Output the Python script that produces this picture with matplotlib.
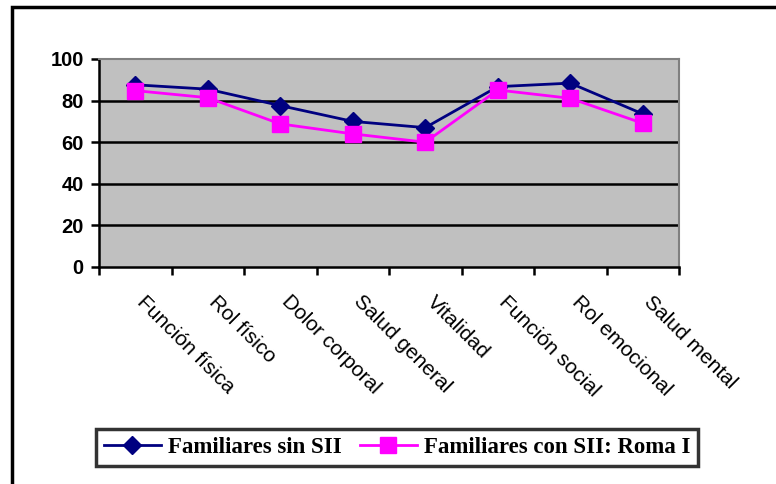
import matplotlib
matplotlib.use('Agg')
import matplotlib.pyplot as plt
from matplotlib.patches import Rectangle

categorias = ['Función física', 'Rol físico', 'Dolor corporal', 'Salud general',
              'Vitalidad', 'Función social', 'Rol emocional', 'Salud mental']
sin_sii = [87.6, 85.5, 77.6, 70.0, 67.0, 86.7, 88.4, 73.6]
con_sii = [84.8, 81.4, 68.8, 64.0, 60.0, 85.1, 81.1, 69.1]
yticks = [0, 20, 40, 60, 80, 100]

W, H = 776, 484
fig = plt.figure(figsize=(W / 100, H / 100), dpi=100)
# outer frame (only left and top edges are visible in the picture)
fig.patches.append(Rectangle((12 / W, -0.1), 1.2, 1.1 - 7 / H, transform=fig.transFigure,
                             fill=False, edgecolor='black', lw=2.5))
ax = fig.add_axes([99 / W, 1 - 267 / H, 580 / W, 208 / H])
ax.set_facecolor('#C0C0C0')

x = list(range(len(categorias)))
ax.plot(x, sin_sii, color='#000080', marker='D', markersize=9, lw=2, label='Familiares sin SII', zorder=3)
ax.plot(x, con_sii, color='#FF00FF', marker='s', markersize=11, lw=2, label='Familiares con SII: Roma I', zorder=4)

ax.set_xlim(-0.5, len(categorias) - 0.5)
ax.set_ylim(0, 100)
ax.set_yticks(yticks)
ax.set_yticklabels([str(v) for v in yticks], fontfamily='Liberation Sans', fontweight='bold', fontsize=14.5)
for v in yticks[1:-1]:
    ax.axhline(v, color='black', lw=1.8, zorder=1)

ax.set_xticks([i - 0.5 for i in range(len(categorias) + 1)])
ax.set_xticklabels([])
ax.tick_params(axis='both', direction='out', length=6, width=1.8, color='black', pad=5)
for i, c in enumerate(categorias):
    ax.text(i + 0.15, -12, c, rotation=-45, ha='left', va='top', rotation_mode='anchor',
            fontsize=15, fontfamily='Liberation Sans')

for side in ['top', 'right']:
    ax.spines[side].set_color('#808080')
    ax.spines[side].set_linewidth(1.5)
ax.spines['left'].set_linewidth(1.8)
ax.spines['bottom'].set_linewidth(1.8)

leg = fig.legend(loc='center', bbox_to_anchor=(397 / W, 1 - 447.5 / H), ncol=2,
                 prop={'family': 'Liberation Serif', 'weight': 'bold', 'size': 16.5},
                 frameon=True, fancybox=False, edgecolor='black', handlelength=2.5,
                 columnspacing=0.8, handletextpad=0.3, borderpad=0.35, borderaxespad=0)
leg.get_frame().set_linewidth(2.5)

fig.savefig('out.png', dpi=100)
